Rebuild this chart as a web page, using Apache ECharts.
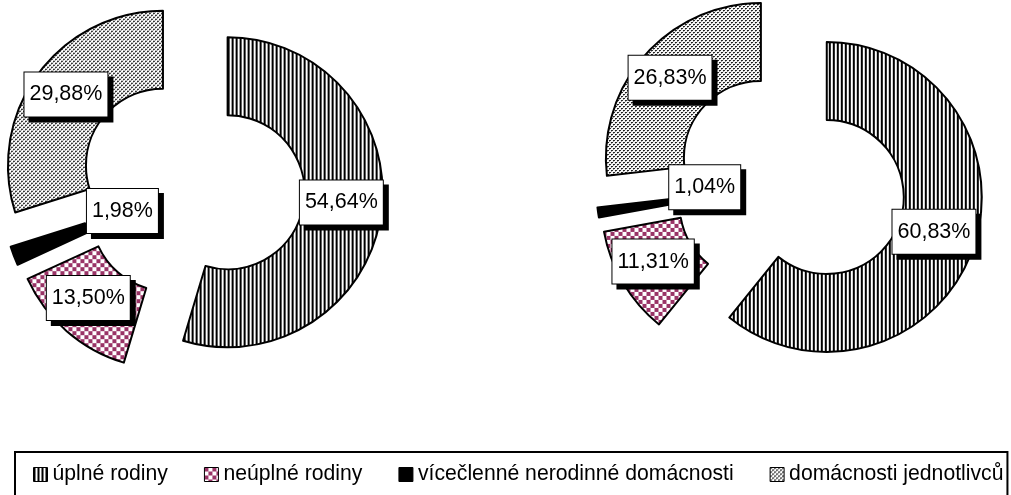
<!DOCTYPE html>
<html>
<head>
<meta charset="utf-8">
<script src="https://cdn.jsdelivr.net/npm/echarts@6/dist/echarts.min.js"></script>
<style>
  html, body { margin: 0; padding: 0; background: #fff; }
  #main { width: 1011px; height: 495px; }
</style>
</head>
<body>
<div id="main"></div>
<script>
// data
const categories = ["úplné rodiny", "neúplné rodiny", "vícečlenné nerodinné domácnosti", "domácnosti jednotlivců"];
const leftValues = [54.64, 13.50, 1.98, 29.88];
const rightValues = [60.83, 11.31, 1.04, 26.83];

// label nudges (dx, dy) per slice, so the boxes sit where the original has them
const labelNudge = [
  [[-4, -7], [-2, -6], [75, -32], [-1, -1]],
  [[-5, -5], [-1, -3], [71, -20], [-2, -1]]
];

// fill patterns
function makePattern(w, h, draw) {
  let c = document.createElement("canvas");
  c.width = w;
  c.height = h;
  let ctx = c.getContext("2d");
  ctx.fillStyle = "#fff";
  ctx.fillRect(0, 0, w, h);
  draw(ctx);
  return { image: c, repeat: "repeat" };
}

let stripes = makePattern(4, 4, function(ctx) {
  ctx.fillStyle = "#000";
  ctx.fillRect(0, 0, 2, 4);
});
let checker = makePattern(8, 8, function(ctx) {
  ctx.fillStyle = "#993366";
  ctx.fillRect(0, 0, 4, 4);
  ctx.fillRect(4, 4, 4, 4);
});
let dots = makePattern(4, 4, function(ctx) {
  ctx.fillStyle = "#111";
  ctx.fillRect(0, 0, 2, 1);
  ctx.fillRect(2, 2, 2, 1);
  ctx.fillStyle = "#999";
  ctx.fillRect(0, 1, 1, 1);
  ctx.fillRect(2, 3, 1, 1);
});
const fills = [stripes, checker, "#000", dots];

const font = "'Liberation Sans', Arial, sans-serif";

function buildData(values) {
  return values.map(function(v, i) {
    return { name: categories[i], value: v, selected: true, itemStyle: { color: fills[i] } };
  });
}

function pieSeries(values, center, offset, idx) {
  return {
    type: "pie",
    center: center,
    radius: [77, 155],
    startAngle: 90,
    clockwise: true,
    selectedMode: "multiple",
    selectedOffset: offset,
    avoidLabelOverlap: false,
    itemStyle: { borderColor: "#000", borderWidth: 2 },
    select: { itemStyle: { borderColor: "#000", borderWidth: 2 } },
    emphasis: { disabled: true },
    label: {
      show: true,
      position: "inside",
      formatter: function(p) {
        return p.value.toFixed(2).replace(".", ",") + "%";
      },
      color: "#000",
      fontSize: 21.5,
      fontFamily: font,
      backgroundColor: "#fff",
      borderColor: "#000",
      borderWidth: 1,
      padding: [12, 5, 10, 5],
      shadowColor: "#000",
      shadowBlur: 0,
      shadowOffsetX: 5,
      shadowOffsetY: 5
    },
    labelLine: { show: false },
    labelLayout: function(params) {
      let n = labelNudge[idx][params.dataIndex];
      return { dx: n[0], dy: n[1] };
    },
    data: buildData(values)
  };
}

let myChart = echarts.init(document.getElementById("main"));

let option = {
  backgroundColor: "#fff",
  animation: false,
  legend: {
    data: categories,
    left: 15,
    top: 452,
    padding: [12, 4, 24, 18],
    itemGap: 36,
    itemWidth: 14,
    itemHeight: 14,
    icon: "rect",
    selectedMode: false,
    borderColor: "#000",
    borderWidth: 2,
    itemStyle: { borderColor: "#000", borderWidth: 1 },
    textStyle: { color: "#000", fontSize: 21.2, fontFamily: font, padding: [0, 0, 0, 0] }
  },
  series: [
    pieSeries(leftValues, [192, 187], 36, 0),
    pieSeries(rightValues, [790, 184], 39, 1)
  ]
};

myChart.setOption(option);
</script>
</body>
</html>
